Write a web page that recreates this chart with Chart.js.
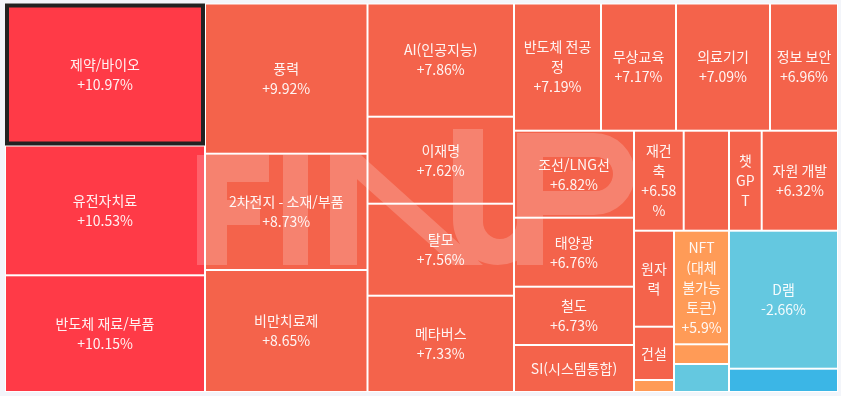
<!DOCTYPE html>
<html lang="ko">
<head>
<meta charset="utf-8">
<script src="https://cdn.jsdelivr.net/npm/chart.js@4.4.1/dist/chart.umd.min.js"></script>
<style>
  html, body { margin: 0; padding: 0; background: #f3f5fa; }
  #wrap { width: 841px; height: 396px; }
</style>
</head>
<body>
<div id="wrap"><canvas id="chart-themes" width="841" height="396"></canvas></div>
<script>
// theme names, in the order the treemap lays them out (by change, descending)
const THEME_NAMES = [
  "제약/바이오", "유전자치료", "반도체 재료/부품",
  "풍력", "2차전지 - 소재/부품", "비만치료제",
  "AI(인공지능)", "이재명", "탈모", "메타버스",
  "반도체 전공정", "무상교육", "의료기기", "정보 보안",
  "조선/LNG선", "태양광", "철도", "SI(시스템통합)",
  "재건축", null, "챗GPT", "자원 개발",
  "원자력", "건설", null,
  "NFT (대체 불가능 토큰)", null, null,
  "D램", null,
];

// relative size of each theme (box area)
const THEME_WEIGHTS = [
  28400, 25960, 23340,
  24408, 18899, 19825,
  16584, 12746, 13478, 14108,
  11066, 9540, 11957, 8650,
  10440, 8280, 6996, 5640,
  4970, 4530, 3270, 7630,
  3840, 2132, 480,
  6248, 1084, 1540,
  15042, 2540,
];

// daily change, %
const THEME_CHANGES = [
  10.97, 10.53, 10.15,
  9.92, 8.73, 8.65,
  7.86, 7.62, 7.56, 7.33,
  7.19, 7.17, 7.09, 6.96,
  6.82, 6.76, 6.73, 6.6,
  6.58, 6.45, 6.38, 6.32,
  6.24, 6.1, 5.95,
  5.9, 5.4, -1.8,
  -2.66, -3.9,
];

// how many themes go in each squarify row
const ROW_SIZES = [3, 3, 4, 4, 4, 4, 3, 3, 1, 1];

const SELECTED_THEME = "제약/바이오";

const LABEL_FONT = '14px "Noto Sans CJK KR", sans-serif';
const LINE_H = 20;
const PAD_X = 5.5;
const PAD_Y = 4;

function colorForChange(c) {
  if (c >= 10) return "#ff3a47";
  if (c >= 6) return "#f4634b";
  if (c >= 0) return "#ff9b57";
  if (c > -3) return "#64c8e0";
  return "#3bb6e6";
}

function formatChange(c) {
  return (c > 0 ? "+" : "") + c + "%";
}

// squarify with fixed row breaks; works in 0..1 units, orientation decided in pixels
function layoutRows(weights, rows, pxW, pxH) {
  const total = weights.reduce((a, b) => a + b, 0);
  let x0 = 0, y0 = 0, x1 = 1, y1 = 1;
  const cells = [];
  let i = 0;
  rows.forEach((n) => {
    const part = weights.slice(i, i + n);
    const sum = part.reduce((a, b) => a + b, 0);
    const frac = sum / total;
    const dx = x1 - x0, dy = y1 - y0;
    if (dx * pxW < dy * pxH) {
      const h = frac / dx;
      let cx = x0;
      part.forEach((w, k) => {
        const cw = (dx * w) / sum;
        cells.push({ idx: i + k, x0: cx, x1: cx + cw, y0: y0, y1: y0 + h });
        cx += cw;
      });
      y0 += h;
    } else {
      const wd = frac / dy;
      let cy = y0;
      part.forEach((w, k) => {
        const ch = (dy * w) / sum;
        cells.push({ idx: i + k, x0: x0, x1: x0 + wd, y0: cy, y1: cy + ch });
        cy += ch;
      });
      x0 += wd;
    }
    i += n;
  });
  return cells;
}

const isHangul = (ch) => /[\uac00-\ud7a3]/.test(ch);

// split into unbreakable pieces, roughly like browser line breaking for Korean
function atoms(text) {
  const out = [];
  let cur = "";
  for (let k = 0; k < text.length; k++) {
    const ch = text[k];
    const prev = text[k - 1];
    let brk = false;
    if (k > 0) {
      if (prev === " ") brk = true;
      else if (prev === "(") brk = false;
      else if (ch === ")" || ch === "%" || ch === " ") brk = false;
      else if (isHangul(ch) || isHangul(prev)) brk = true;
    }
    if (brk && cur) { out.push(cur); cur = ""; }
    cur += ch;
  }
  if (cur) out.push(cur);
  return out;
}

function wrapText(ctx, text, maxW) {
  const lines = [];
  let line = "";
  const fits = (s) => ctx.measureText(s.trim()).width <= maxW;
  atoms(text).forEach((a) => {
    if (fits(line + a)) { line += a; return; }
    if (line.trim()) lines.push(line.trim());
    line = "";
    if (fits(a)) { line = a; return; }
    for (const ch of a) {
      if (fits(line + ch)) line += ch;
      else { if (line.trim()) lines.push(line.trim()); line = ch; }
    }
  });
  if (line.trim()) lines.push(line.trim());
  return lines;
}

// FINUP logo watermark, one path so overlaps are not painted twice
function drawWatermark(ctx) {
  ctx.beginPath();
  // F
  ctx.rect(197, 155, 30, 110);
  ctx.rect(197, 155, 72, 27);
  ctx.rect(197, 200, 63, 25);
  // I
  ctx.rect(283, 155, 25, 110);
  // N
  ctx.rect(330, 155, 27, 110);
  ctx.moveTo(330, 155);
  ctx.lineTo(361, 155);
  ctx.lineTo(483, 265);
  ctx.lineTo(453, 265);
  ctx.closePath();
  // U (left stem shared with N)
  ctx.moveTo(453, 129);
  ctx.lineTo(483, 129);
  ctx.lineTo(483, 222);
  ctx.arc(500, 222, 17, Math.PI, 0, true);
  ctx.lineTo(517, 133);
  ctx.lineTo(543, 133);
  ctx.lineTo(543, 220);
  ctx.arc(498, 220, 45, 0, Math.PI, false);
  ctx.closePath();
  // P (stem shared with U)
  ctx.rect(517, 133, 26, 132);
  ctx.moveTo(517, 133);
  ctx.lineTo(594, 133);
  ctx.arc(594, 174, 41, -Math.PI / 2, Math.PI / 2, false);
  ctx.lineTo(517, 215);
  ctx.closePath();
  ctx.moveTo(543, 157);
  ctx.lineTo(543, 191);
  ctx.lineTo(596, 191);
  ctx.arc(596, 174, 17, Math.PI / 2, -Math.PI / 2, true);
  ctx.closePath();
  ctx.fillStyle = "rgba(255,255,255,0.2)";
  ctx.fill("nonzero");
}

const treemapPlugin = {
  id: "treemapCells",
  afterDatasetsDraw(chart) {
    const { ctx, chartArea, scales } = chart;
    const sx = scales.x, sy = scales.y;
    const cells = layoutRows(THEME_WEIGHTS, ROW_SIZES, chartArea.width, chartArea.height);

    ctx.save();
    ctx.fillStyle = "#ffffff";
    ctx.fillRect(chartArea.left, chartArea.top, chartArea.width, chartArea.height);

    cells.forEach((c) => {
      const left = sx.getPixelForValue(c.x0);
      const right = sx.getPixelForValue(c.x1);
      const top = sy.getPixelForValue(c.y0);
      const bottom = sy.getPixelForValue(c.y1);
      c.px = { left, right, top, bottom };
      ctx.fillStyle = colorForChange(THEME_CHANGES[c.idx]);
      ctx.fillRect(left + 1, top + 1, right - left - 2, bottom - top - 2);
    });

    drawWatermark(ctx);

    // labels
    ctx.font = LABEL_FONT;
    ctx.textAlign = "center";
    ctx.textBaseline = "middle";
    ctx.fillStyle = "rgba(255,255,255,0.93)";
    cells.forEach((c) => {
      const name = THEME_NAMES[c.idx];
      if (!name) return;
      const { left, right, top, bottom } = c.px;
      const w = right - left - 2, h = bottom - top - 2;
      const maxW = w - PAD_X * 2;
      const nameLines = wrapText(ctx, name, maxW);
      const chgLines = wrapText(ctx, formatChange(THEME_CHANGES[c.idx]), maxW);
      let lines = nameLines.concat(chgLines);
      if (lines.length * LINE_H + PAD_Y * 2 > h) lines = nameLines;
      if (lines.length * LINE_H + PAD_Y * 2 > h) return;
      const cx = (left + right) / 2, cy = (top + bottom) / 2;
      lines.forEach((ln, k) => {
        ctx.fillText(ln, cx, cy + (k - (lines.length - 1) / 2) * LINE_H);
      });
    });

    // selected theme frame
    cells.forEach((c) => {
      if (THEME_NAMES[c.idx] !== SELECTED_THEME) return;
      const { left, right, top, bottom } = c.px;
      ctx.strokeStyle = "#222222";
      ctx.lineWidth = 4;
      ctx.strokeRect(left + 2, top + 2, right - left - 4, bottom - top - 4);
    });
    ctx.restore();
  },
};

new Chart(document.getElementById("chart-themes"), {
  type: "scatter",
  data: { datasets: [{ data: [] }] },
  options: {
    responsive: false,
    animation: false,
    devicePixelRatio: 1,
    layout: { padding: { left: 5, top: 3.5, right: 3, bottom: 4 } },
    plugins: { legend: { display: false }, tooltip: { enabled: false } },
    scales: {
      x: { type: "linear", min: 0, max: 1, display: false },
      y: { type: "linear", min: 0, max: 1, reverse: true, display: false },
    },
  },
  plugins: [treemapPlugin],
});
</script>
</body>
</html>
